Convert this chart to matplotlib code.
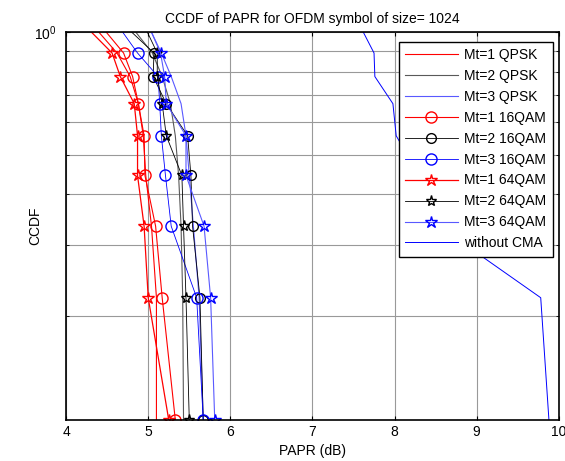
import matplotlib
matplotlib.use("Agg")
import matplotlib.pyplot as plt
from matplotlib.ticker import NullFormatter, LogLocator, FixedLocator

plt.rcParams['font.family'] = ['Liberation Sans', 'DejaVu Sans']

# CCDF levels (top to bottom)
ccdf = [1.0, 0.889, 0.778, 0.667, 0.556, 0.444, 0.333, 0.222, 0.111]

# PAPR (dB) for each curve at the levels above
mt1_qpsk = [4.40, 4.62, 4.78, 4.88, 4.94, 4.97, 5.04, 5.10, 5.10]
mt2_qpsk = [4.85, 5.05, 5.17, 5.27, 5.33, 5.37, 5.40, 5.42, 5.43]
mt3_qpsk = [5.04, 5.16, 5.28, 5.40, 5.46, 5.50, 5.55, 5.62, 5.67]
mt1_16qam = [4.49, 4.70, 4.81, 4.88, 4.95, 4.96, 5.09, 5.17, 5.33]
mt2_16qam = [4.80, 5.07, 5.06, 5.22, 5.48, 5.52, 5.54, 5.63, 5.67]
mt3_16qam = [4.69, 4.87, 5.12, 5.14, 5.16, 5.21, 5.28, 5.59, 5.67]
mt1_64qam = [4.31, 4.56, 4.66, 4.83, 4.87, 4.87, 4.95, 5.00, 5.25]
mt2_64qam = [4.99, 5.11, 5.11, 5.17, 5.22, 5.41, 5.43, 5.46, 5.50]
mt3_64qam = [5.04, 5.15, 5.20, 5.22, 5.46, 5.46, 5.68, 5.76, 5.81]
no_cma = [7.62, 7.75, 7.76, 7.98, 8.02, 8.30, 8.54, 9.78, 9.88]

fig = plt.figure(figsize=(5.65, 4.61), dpi=100)
ax = fig.add_axes([0.117, 0.089, 0.872, 0.841])

lb = (0.35, 0.35, 1.0)
mk = slice(1, None)  # no marker on the top (CCDF = 1) point
ax.plot(mt1_qpsk, ccdf, color='r', lw=0.8, label='Mt=1 QPSK')
ax.plot(mt2_qpsk, ccdf, color='0.35', lw=0.8, label='Mt=2 QPSK')
ax.plot(mt3_qpsk, ccdf, color=lb, lw=0.8, label='Mt=3 QPSK')
ax.plot(mt1_16qam, ccdf, color='r', lw=0.8, marker='o', ms=8, mfc='none',
        markevery=mk, label='Mt=1 16QAM')
ax.plot(mt2_16qam, ccdf, color='k', lw=0.6, marker='o', ms=7, mfc='none',
        markevery=mk, label='Mt=2 16QAM')
ax.plot(mt3_16qam, ccdf, color='b', lw=0.6, marker='o', ms=8, mfc='none',
        markevery=mk, label='Mt=3 16QAM')
ax.plot(mt1_64qam, ccdf, color='r', lw=0.9, marker='*', ms=9, mfc='none',
        markevery=mk, label='Mt=1 64QAM')
ax.plot(mt2_64qam, ccdf, color='k', lw=0.6, marker='*', ms=8, mfc='none',
        markevery=mk, label='Mt=2 64QAM')
ax.plot(mt3_64qam, ccdf, color=lb, lw=0.8, marker='*', ms=9, mfc='none', mec='b',
        markevery=mk, label='Mt=3 64QAM')
ax.plot(no_cma, ccdf, color='b', lw=0.7, label='without CMA')

ax.set_yscale('log')
ax.set_xlim(4, 10)
ax.set_ylim(0.111, 1)
ax.set_xticks([4, 5, 6, 7, 8, 9, 10])
ax.yaxis.set_major_locator(FixedLocator([1.0]))
ax.yaxis.set_minor_locator(LogLocator(base=10, subs=[0.2, 0.3, 0.4, 0.5, 0.6, 0.7, 0.8, 0.9]))
ax.yaxis.set_minor_formatter(NullFormatter())
ax.grid(True, which='both', color='0.6', lw=0.8)
ax.tick_params(which='both', direction='in', top=True, right=True, labelsize=10)
ax.tick_params(axis='y', which='major', pad=7)
ax.tick_params(which='major', length=3)
ax.tick_params(which='minor', length=2)
for s in ax.spines.values():
    s.set_linewidth(1.2)

ax.set_title('CCDF of PAPR for OFDM symbol of size= 1024', fontsize=10, pad=7)
ax.set_xlabel('PAPR (dB)', fontsize=10, labelpad=4)
ax.set_ylabel('CCDF', fontsize=10, labelpad=-6)

leg = ax.legend(loc='upper right', fontsize=10, fancybox=False, edgecolor='k',
                framealpha=1, bbox_to_anchor=(0.988, 0.976), borderaxespad=0,
                handlelength=3.8, handletextpad=0.5, labelspacing=0.5,
                borderpad=0.45)
leg.get_frame().set_linewidth(1.0)

fig.savefig('out.png', dpi=100)
